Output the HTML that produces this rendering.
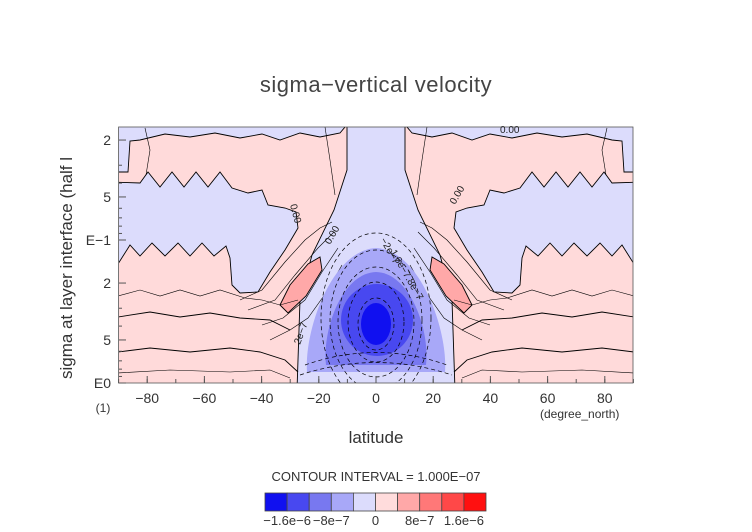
<!DOCTYPE html>
<html><head><meta charset="utf-8"><style>
body{margin:0;background:#fff;}
svg{display:block;font-family:"Liberation Sans",sans-serif;}
</style></head><body>
<svg width="752" height="532" viewBox="0 0 752 532">
<text x="376" y="92" text-anchor="middle" font-size="22" fill="#444" letter-spacing="0.5">sigma−vertical velocity</text>
<defs><clipPath id="pc"><rect x="118.6" y="127" width="514.4" height="256"/></clipPath></defs>
<g id="plot" clip-path="url(#pc)">
<rect x="118.6" y="127" width="514.4" height="256" fill="#ffdada"/>
<polygon fill="#dcdcfc" stroke="#000" stroke-width="0.9" points="347,120 405,120 405,170 418,210 440,255 452,300 455,390 297,390 300,300 312,255 334,210 347,170"/>
<g id="half" stroke="#000" stroke-width="0.9">
 <polygon fill="#dcdcfc" points="110,120 347,120 345,127 340,133 320,137 300,133 280,140 262,134 240,138 215,133 190,137 165,134 140,140 130,141 128,172 110,172"/>
 <polygon fill="#dcdcfc" points="110,182 140,183 148,172 160,187 172,172 184,187 196,172 208,187 220,172 232,188 248,193 262,190 268,205 285,208 296,212 298,228 285,250 270,272 258,292 240,293 232,285 230,258 226,246 214,256 202,243 190,256 178,243 165,256 152,243 140,256 130,245 118,264 110,264"/>
 <polygon fill="#ffa8a8" points="280,305 290,285 308,264 320,257 322,270 306,296 288,313"/>
 <polyline fill="none" stroke-width="0.6" points="118,296 140,290 160,296 180,290 200,296 220,290 245,298 262,300 280,305 298,300"/>
 <polyline fill="none" points="118,317 150,312 180,317 210,313 240,318 270,320 290,330"/>
 <polyline fill="none" points="118,352 150,348 190,352 230,348 260,352 285,360 298,372"/>
 <polyline fill="none" stroke-width="0.6" points="118,373 170,370 230,372 270,370 290,378"/>
 <polyline fill="none" stroke-width="0.6" points="240,300 262,290 285,262 305,240 320,228 332,222"/>
 <polyline fill="none" stroke-width="0.6" points="248,310 275,300 295,275 318,248 334,232"/>
 <polyline fill="none" stroke-width="0.6" points="262,325 283,318 305,300 322,272 338,248"/>
 <polyline fill="none" stroke-width="0.6" points="270,340 290,330 308,318 328,290 342,265"/>
 <polyline fill="none" stroke-width="0.6" points="145,128 150,150 146,175"/>
 <polyline fill="none" stroke-width="0.6" points="325,127 330,160 335,195"/>
</g>
<use href="#half" transform="translate(752,0) scale(-1,1)"/>
<g>
 <path d="M376 248 C420 250 448 330 445 372 L307 372 C304 330 332 250 376 248Z" fill="#a8a8f8"/>
 <path d="M376 272 C410 273 430 330 426 365 L326 365 C322 330 342 273 376 272Z" fill="#7878f0"/>
 <ellipse cx="377" cy="320" rx="36" ry="36" fill="#4848f0"/>
 <ellipse cx="376" cy="324" rx="15" ry="21" fill="#1010f0"/>
 <g fill="none" stroke="#000" stroke-width="0.7" stroke-dasharray="4,3">
  <ellipse cx="376" cy="318" rx="55" ry="85"/><ellipse cx="376" cy="320" rx="46" ry="70"/>
  <ellipse cx="376" cy="322" rx="38" ry="55"/><ellipse cx="376" cy="322" rx="28" ry="40"/>
  <ellipse cx="376" cy="324" rx="18" ry="26"/>
  <path d="M300 375 Q376 350 452 375"/><path d="M305 365 Q376 340 447 365"/>
 </g>
</g>
</g>
<rect x="118.6" y="127" width="514.4" height="256" fill="none" stroke="#555" stroke-width="0.8"/>
<g font-size="10" fill="#222">
<text x="500" y="133">0.00</text><text transform="translate(290,205) rotate(75)">0.00</text><text transform="translate(455,205) rotate(-60)">0.00</text>
<text transform="translate(330,245) rotate(-60)">0.00</text><text transform="translate(380,240) rotate(60)">−2e−7</text><text transform="translate(390,252) rotate(60)">1.6e−7.8e−7</text>
<text transform="translate(300,345) rotate(-70)">2e−7</text>
</g>
<g id="axes" font-size="14" fill="#333"></g>
<text transform="translate(72,268) rotate(-90)" text-anchor="middle" font-size="17" fill="#333">sigma at layer interface (half l</text>
<text x="103" y="412" text-anchor="middle" font-size="12" fill="#333">(1)</text>
<text x="540" y="418" font-size="12" fill="#333">(degree_north)</text>
<text x="376" y="443" text-anchor="middle" font-size="17" fill="#333">latitude</text>
<text x="376" y="481" text-anchor="middle" font-size="13" fill="#333">CONTOUR INTERVAL = 1.000E−07</text>
<g id="cbar"></g>
</svg>
<script>
const xTicks=[-80,-60,-40,-20,0,20,40,60,80];
const yTickVals=[0.02,0.05,0.1,0.2,0.5,1];
const yTickLabels=["2","5","E−1","2","5","E0"];
const cbarColors=["#1010f0","#4848f0","#7878f0","#a8a8f8","#dcdcfc","#ffdcdc","#ffa8a8","#ff7878","#ff4848","#ff1010"];
const cbarLevels=[-2e-6,-1.6e-6,-1.2e-6,-8e-7,-4e-7,0,4e-7,8e-7,1.2e-6,1.6e-6,2e-6];
const cbarLabelVals=[-1.6e-6,-8e-7,0,8e-7,1.6e-6];
const cbarLabels=["−1.6e−6","−8e−7","0","8e−7","1.6e−6"];
const NS="http://www.w3.org/2000/svg";
const xs=v=>376+v*2.86;
const ys=v=>383+Math.log10(v)*143;
const ax=document.getElementById('axes');
function mk(t,a,p){const e=document.createElementNS(NS,t);for(const k in a)e.setAttribute(k,a[k]);p.appendChild(e);return e;}
xTicks.forEach(v=>{
 const t=mk('text',{x:xs(v),y:403,'text-anchor':'middle'},ax);t.textContent=String(v).replace('-','−');
 
 
 mk('line',{x1:xs(v),x2:xs(v),y1:383,y2:376,stroke:'#555'},ax);
});
for(let v=-90;v<=90;v+=10){mk('line',{x1:xs(v),x2:xs(v),y1:383,y2:379,stroke:'#555'},ax);}
yTickVals.forEach((v,i)=>{
 const t=mk('text',{x:111,y:ys(v)+5,'text-anchor':'end'},ax);t.textContent=yTickLabels[i];
 
 
 mk('line',{x1:118.6,x2:126,y1:ys(v),y2:ys(v),stroke:'#555'},ax);
});
[0.03,0.04,0.06,0.07,0.08,0.09,0.3,0.4,0.6,0.7,0.8,0.9].forEach(v=>mk('line',{x1:118.6,x2:122,y1:ys(v),y2:ys(v),stroke:'#555'},ax));
const cb=document.getElementById('cbar');
const cx=v=>265+(v+2e-6)/4e-6*221;
cbarColors.forEach((c,i)=>{
 const r=mk('rect',{x:cx(cbarLevels[i]),y:493,width:cx(cbarLevels[i+1])-cx(cbarLevels[i]),height:18,fill:c,stroke:'#444','stroke-width':0.8},cb);
 
 
});
cbarLabelVals.forEach((v,i)=>{
 const t=mk('text',{x:cx(v),y:525,'text-anchor':'middle','font-size':13,fill:'#333'},cb);t.textContent=cbarLabels[i];
 
 
});
</script>
</body></html>
